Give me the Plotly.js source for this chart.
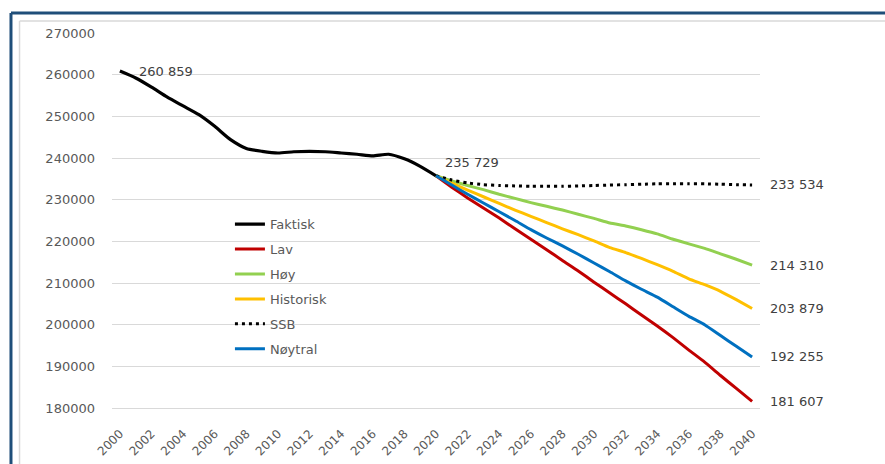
<!DOCTYPE html>
<html>
<head>
<meta charset="utf-8">
<script src="https://cdn.plot.ly/plotly-3.0.1.min.js"></script>
<style>
  html, body { margin: 0; padding: 0; background: #ffffff; }
  #chart { width: 885px; height: 464px; }
</style>
</head>
<body>
<div id="chart"></div>
<script>
// ---- Data ----
const histYears = [2000,2001,2002,2003,2004,2005,2006,2007,2008,2009,2010,2011,2012,2013,2014,2015,2016,2017,2018,2019,2020];
const faktisk = [260859,259200,257000,254600,252500,250400,247600,244400,242300,241600,241200,241500,241600,241500,241200,240900,240500,240900,239800,238000,235729];

const projYears = [2020,2021,2022,2023,2024,2025,2026,2027,2028,2029,2030,2031,2032,2033,2034,2035,2036,2037,2038,2039,2040];
const lav       = [235729,233000,230400,228000,225600,223000,220500,218000,215400,212900,210200,207600,205000,202300,199700,196900,193900,191000,187800,184700,181607];
const hoy       = [235729,234500,233400,232400,231300,230300,229300,228400,227500,226500,225500,224400,223700,222800,221800,220500,219400,218300,217000,215700,214310];
const historisk = [235729,234000,232300,230700,229100,227500,226000,224500,223000,221600,220100,218500,217300,215900,214400,212800,211000,209600,208000,206000,203879];
const ssb       = [235729,234700,234000,233600,233400,233300,233200,233200,233200,233300,233400,233500,233600,233700,233800,233800,233800,233800,233700,233600,233534];
const noytral   = [235729,233500,231300,229200,227100,225000,222800,220800,218900,216900,214800,212700,210500,208500,206600,204300,202000,200000,197400,194800,192255];

const seriesNames = ["Faktisk","Lav","Høy","Historisk","SSB","Nøytral"];
const xTickVals = [2000,2002,2004,2006,2008,2010,2012,2014,2016,2018,2020,2022,2024,2026,2028,2030,2032,2034,2036,2038,2040];
const yTickVals = [180000,190000,200000,210000,220000,230000,240000,250000,260000,270000];

// ---- Helpers ----
function fmt(v) { return String(v).replace(/\B(?=(\d{3})+(?!\d))/g, " "); }
const last = a => a[a.length - 1];

const fontFam = "DejaVu Sans, sans-serif";
const txtColor = "#595959";

const traces = [
  {x: histYears, y: faktisk, name: seriesNames[0], line: {color: "#000000", width: 3.2, shape: "spline", smoothing: 0.6}},
  {x: projYears, y: lav, name: seriesNames[1], line: {color: "#c00000", width: 3, shape: "spline", smoothing: 0.4}},
  {x: projYears, y: hoy, name: seriesNames[2], line: {color: "#92d050", width: 3, shape: "spline", smoothing: 0.4}},
  {x: projYears, y: historisk, name: seriesNames[3], line: {color: "#ffc000", width: 3, shape: "spline", smoothing: 0.4}},
  {x: projYears, y: ssb, name: seriesNames[4], line: {color: "#000000", width: 3, dash: "3px,4px", shape: "spline", smoothing: 0.4}},
  {x: projYears, y: noytral, name: seriesNames[5], line: {color: "#0070c0", width: 3, shape: "spline", smoothing: 0.4}}
].map((t, i) => Object.assign(t, {type: "scatter", mode: "lines", legendgroup: "g" + i, hoverinfo: "x+y"}));

const annFont = {family: fontFam, size: 13, color: "#404040"};
const annotations = [
  {x: histYears[0], y: faktisk[0], text: fmt(faktisk[0]), xanchor: "left", yanchor: "middle", xshift: 17, yshift: 0},
  {x: last(histYears), y: last(faktisk), text: fmt(last(faktisk)), xanchor: "left", yanchor: "middle", xshift: 7, yshift: 13},
  {x: last(projYears), y: last(ssb), text: fmt(last(ssb)), xanchor: "left", yanchor: "middle", xshift: 16},
  {x: last(projYears), y: last(hoy), text: fmt(last(hoy)), xanchor: "left", yanchor: "middle", xshift: 16},
  {x: last(projYears), y: last(historisk), text: fmt(last(historisk)), xanchor: "left", yanchor: "middle", xshift: 16},
  {x: last(projYears), y: last(noytral), text: fmt(last(noytral)), xanchor: "left", yanchor: "middle", xshift: 16},
  {x: last(projYears), y: last(lav), text: fmt(last(lav)), xanchor: "left", yanchor: "middle", xshift: 16}
].map(a => Object.assign(a, {xref: "x", yref: "y", showarrow: false, font: annFont}));

const layout = {
  width: 885, height: 464,
  margin: {l: 112, r: 125, t: 33, b: 56},
  paper_bgcolor: "#ffffff", plot_bgcolor: "#ffffff",
  font: {family: fontFam, size: 13, color: txtColor},
  showlegend: true,
  legend: {x: 0.182, y: 0.53, xanchor: "left", yanchor: "top", bgcolor: "rgba(0,0,0,0)",
           font: {family: fontFam, size: 13, color: txtColor}, tracegroupgap: 5, traceorder: "grouped"},
  xaxis: {range: [1999.5, 2040.5], tickvals: xTickVals, ticktext: xTickVals.map(String), tickangle: -45,
          showgrid: false, zeroline: false, showline: true, linecolor: "#d9d9d9", linewidth: 1,
          ticks: "", ticklabelstandoff: 13, tickfont: {family: fontFam, size: 12, color: txtColor}, fixedrange: true},
  yaxis: {range: [180000, 270000], tickvals: yTickVals, tickformat: "d", showgrid: true, gridcolor: "#d9d9d9", gridwidth: 1,
          zeroline: false, showline: false, ticks: "", ticklabelstandoff: 16,
          tickfont: {family: fontFam, size: 13, color: txtColor}, fixedrange: true},
  annotations: annotations,
  shapes: [
    {type: "line", xref: "paper", yref: "paper", x0: -0.1559, x1: 1.3, y0: 1.0533, y1: 1.0533, line: {color: "#1f4e79", width: 3}},
    {type: "line", xref: "paper", yref: "paper", x0: -0.1559, x1: -0.1559, y0: 1.0533, y1: -0.3, line: {color: "#1f4e79", width: 3}},
    {type: "line", xref: "paper", yref: "paper", x0: -0.1427, x1: 1.3, y0: 1.032, y1: 1.032, line: {color: "#d9d9d9", width: 1.5}},
    {type: "line", xref: "paper", yref: "paper", x0: -0.1427, x1: -0.1427, y0: 1.032, y1: -0.3, line: {color: "#d9d9d9", width: 1.5}}
  ]
};

Plotly.newPlot("chart", traces, layout, {displayModeBar: false, staticPlot: true});
</script>
</body>
</html>
